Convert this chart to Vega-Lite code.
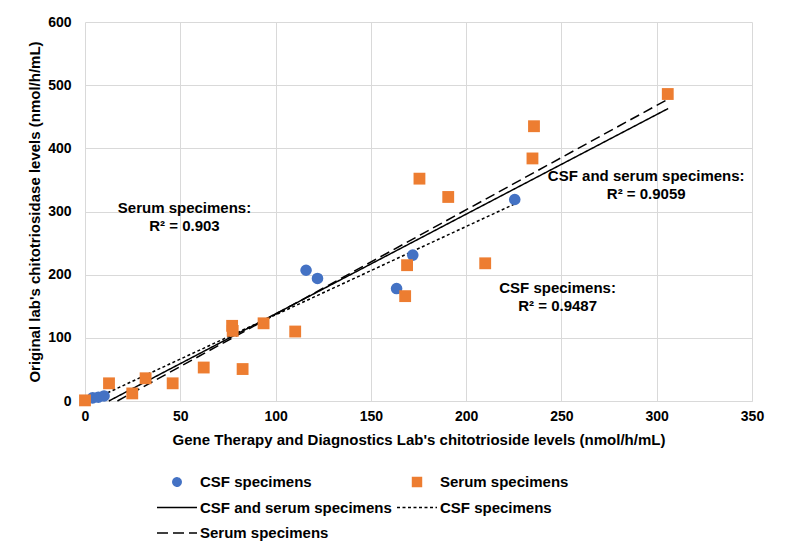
{
  "$schema": "https://vega.github.io/schema/vega-lite/v6.json",
  "width": 667,
  "height": 379,
  "autosize": {"type": "none"},
  "padding": {"left": 85, "top": 22, "right": 37, "bottom": 156},
  "background": "white",
  "config": {
    "font": "Liberation Sans",
    "view": {"stroke": null},
    "axis": {
      "grid": true,
      "gridColor": "#d9d9d9",
      "gridWidth": 1,
      "ticks": false,
      "labelFontSize": 14,
      "labelFontWeight": "bold",
      "labelColor": "black",
      "titleFontSize": 15,
      "titleFontWeight": "bold",
      "titleColor": "black",
      "labelFlush": false,
      "labelOverlap": false
    }
  },
  "datasets": {
    "points": [
      {"x": 4, "y": 5, "series": "CSF specimens"},
      {"x": 7, "y": 6, "series": "CSF specimens"},
      {"x": 10, "y": 8, "series": "CSF specimens"},
      {"x": 116, "y": 207, "series": "CSF specimens"},
      {"x": 122, "y": 194, "series": "CSF specimens"},
      {"x": 163.5, "y": 178, "series": "CSF specimens"},
      {"x": 172, "y": 231, "series": "CSF specimens"},
      {"x": 225.5, "y": 319, "series": "CSF specimens"},
      {"x": 0, "y": 1, "series": "Serum specimens"},
      {"x": 12.6, "y": 28, "series": "Serum specimens"},
      {"x": 24.8, "y": 12, "series": "Serum specimens"},
      {"x": 31.8, "y": 36, "series": "Serum specimens"},
      {"x": 46, "y": 28, "series": "Serum specimens"},
      {"x": 62.3, "y": 53, "series": "Serum specimens"},
      {"x": 82.7, "y": 50.6, "series": "Serum specimens"},
      {"x": 77.2, "y": 119, "series": "Serum specimens"},
      {"x": 77.5, "y": 111, "series": "Serum specimens"},
      {"x": 93.7, "y": 123, "series": "Serum specimens"},
      {"x": 110.3, "y": 110, "series": "Serum specimens"},
      {"x": 175.5, "y": 352, "series": "Serum specimens"},
      {"x": 169, "y": 215, "series": "Serum specimens"},
      {"x": 168, "y": 166, "series": "Serum specimens"},
      {"x": 190.6, "y": 323, "series": "Serum specimens"},
      {"x": 210, "y": 218, "series": "Serum specimens"},
      {"x": 235.6, "y": 435, "series": "Serum specimens"},
      {"x": 234.8, "y": 384, "series": "Serum specimens"},
      {"x": 305.8, "y": 486, "series": "Serum specimens"}
    ],
    "trends": [
      {"x": 12.5, "y": 0, "series": "CSF and serum specimens (trend)"},
      {"x": 306, "y": 463, "series": "CSF and serum specimens (trend)"},
      {"x": 4, "y": 2, "series": "CSF specimens (trend)"},
      {"x": 225.5, "y": 312, "series": "CSF specimens (trend)"},
      {"x": 17, "y": 0, "series": "Serum specimens (trend)"},
      {"x": 306, "y": 478, "series": "Serum specimens (trend)"}
    ],
    "notes": [
      {"x": 52.2, "y": 305.4, "text": "Serum specimens:\nR² = 0.903"},
      {"x": 294.5, "y": 355.5, "text": "CSF and serum specimens:\nR² = 0.9059"},
      {"x": 248, "y": 178.8, "text": "CSF specimens:\nR² = 0.9487"}
    ]
  },
  "layer": [
    {
      "data": {"name": "trends"},
      "mark": {"type": "line", "strokeWidth": 1.5},
      "encoding": {
        "x": {"field": "x", "type": "quantitative", "scale": {"domain": [0, 350], "nice": false},
          "axis": {"title": "Gene Therapy and Diagnostics Lab's chitotrioside levels (nmol/h/mL)", "values": [0, 50, 100, 150, 200, 250, 300, 350], "domainColor": "#d9d9d9", "labelPadding": 8, "titlePadding": 9}},
        "y": {"field": "y", "type": "quantitative", "scale": {"domain": [0, 600], "nice": false},
          "axis": {"title": "Original lab's chitotriosidase levels (nmol/h/mL)", "values": [0, 100, 200, 300, 400, 500, 600], "domain": false, "labelPadding": 14, "titlePadding": 5}},
        "color": {
          "field": "series",
          "type": "nominal",
          "scale": {
            "domain": ["CSF specimens", "Serum specimens", "CSF and serum specimens (trend)", "CSF specimens (trend)", "Serum specimens (trend)"],
            "range": ["#4472C4", "#ED7D31", "black", "black", "black"]
          },
          "legend": {
            "orient": "none",
            "legendX": 71,
            "legendY": 452,
            "columns": 2,
            "direction": "horizontal",
            "title": null,
            "padding": 0,
            "symbolSize": 1600,
            "clipHeight": 16,
            "rowPadding": 9.5,
            "columnPadding": 4,
            "labelOffset": 2,
            "labelFontSize": 15,
            "labelFontWeight": "bold",
            "labelColor": "black",
            "labelLimit": 400,
            "labelExpr": "replace(datum.value, ' (trend)', '')",
            "encode": {
              "symbols": {
                "update": {
                  "shape": {"signal": "datum.value == 'CSF specimens' ? 'circle' : datum.value == 'Serum specimens' ? 'square' : 'stroke'"},
                  "size": {"signal": "datum.value == 'CSF specimens' ? 70 : datum.value == 'Serum specimens' ? 80 : 1600"},
                  "fill": {"signal": "datum.value == 'CSF specimens' ? '#4472C4' : datum.value == 'Serum specimens' ? '#ED7D31' : 'transparent'"},
                  "stroke": {"signal": "datum.value == 'CSF specimens' || datum.value == 'Serum specimens' ? 'transparent' : 'black'"},
                  "strokeDash": {"signal": "datum.value == 'CSF specimens (trend)' ? [3, 2.5] : datum.value == 'Serum specimens (trend)' ? [11, 5] : [1, 0]"},
                  "strokeWidth": {"value": 1.5},
                  "opacity": {"value": 1}
                }
              }
            }
          }
        },
        "strokeDash": {
          "field": "series",
          "type": "nominal",
          "scale": {
            "domain": ["CSF and serum specimens (trend)", "CSF specimens (trend)", "Serum specimens (trend)"],
            "range": [[1, 0], [3, 2.5], [10, 5]]
          },
          "legend": null
        }
      }
    },
    {
      "data": {"name": "points"},
      "transform": [{"filter": "datum.series == 'CSF specimens'"}],
      "mark": {"type": "circle", "size": 135, "opacity": 1},
      "encoding": {
        "x": {"field": "x", "type": "quantitative"},
        "y": {"field": "y", "type": "quantitative"},
        "color": {"field": "series", "type": "nominal"}
      }
    },
    {
      "data": {"name": "points"},
      "transform": [{"filter": "datum.series == 'Serum specimens'"}],
      "mark": {"type": "square", "size": 140, "opacity": 1},
      "encoding": {
        "x": {"field": "x", "type": "quantitative"},
        "y": {"field": "y", "type": "quantitative"},
        "color": {"field": "series", "type": "nominal"}
      }
    },
    {
      "data": {"name": "notes"},
      "mark": {"type": "text", "align": "center", "baseline": "middle", "fontSize": 15, "fontWeight": "bold", "color": "black", "lineBreak": "\n", "lineHeight": 18},
      "encoding": {
        "x": {"field": "x", "type": "quantitative"},
        "y": {"field": "y", "type": "quantitative"},
        "text": {"field": "text"}
      }
    }
  ]
}
